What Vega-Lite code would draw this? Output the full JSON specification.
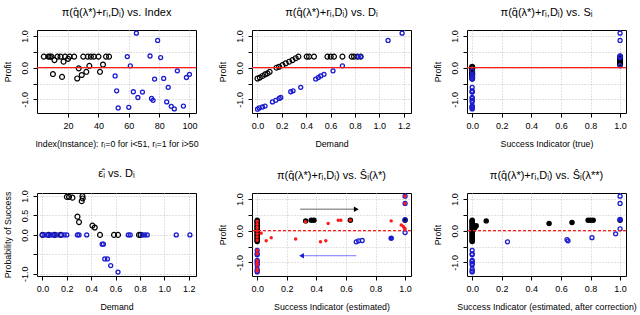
{
  "$schema": "https://vega.github.io/schema/vega-lite/v6.json",
  "background": "white",
  "padding": {"left": 2, "top": 6, "right": 2, "bottom": 2},
  "config": {
    "view": {"stroke": "black", "strokeWidth": 1},
    "font": "Liberation Sans, DejaVu Sans",
    "axis": {"domain": false, "tickColor": "black", "tickSize": 4, "labelFont": "Liberation Sans, DejaVu Sans", "labelFontSize": 9, "labelColor": "black", "titleFont": "Liberation Sans, DejaVu Sans", "titleFontSize": 8.8, "titleFontWeight": "normal", "titleColor": "black", "gridColor": "#c4c4c4", "gridDash": [1, 2], "gridWidth": 1},
    "axisX": {"labelPadding": 4, "titlePadding": 9},
    "axisY": {"labelAngle": -90, "labelAlign": "center", "labelBaseline": "bottom", "labelPadding": 4, "titlePadding": 8},
    "title": {"font": "Liberation Sans, DejaVu Sans", "fontSize": 11, "fontWeight": "normal", "color": "black", "offset": 11}
  },
  "datasets": {
    "p1": [
      {"x": 4, "y": 0.35, "g": "r0"}, {"x": 7, "y": 0.35, "g": "r0"}, {"x": 8, "y": 0.35, "g": "r0"}, {"x": 9, "y": 0.35, "g": "r0"}, {"x": 13, "y": 0.35, "g": "r0"}, {"x": 15, "y": 0.35, "g": "r0"}, {"x": 18, "y": 0.35, "g": "r0"}, {"x": 21, "y": 0.35, "g": "r0"}, {"x": 24, "y": 0.35, "g": "r0"}, {"x": 30, "y": 0.35, "g": "r0"}, {"x": 33, "y": 0.35, "g": "r0"}, {"x": 35, "y": 0.35, "g": "r0"}, {"x": 37, "y": 0.35, "g": "r0"}, {"x": 40, "y": 0.35, "g": "r0"}, {"x": 45, "y": 0.35, "g": "r0"}, {"x": 47, "y": 0.35, "g": "r0"},
      {"x": 11, "y": 0.24, "g": "r0"}, {"x": 17, "y": 0.19, "g": "r0"}, {"x": 20, "y": 0.28, "g": "r0"}, {"x": 10, "y": -0.2, "g": "r0"}, {"x": 16, "y": -0.29, "g": "r0"}, {"x": 27, "y": -0.02, "g": "r0"}, {"x": 26, "y": -0.34, "g": "r0"}, {"x": 29, "y": -0.23, "g": "r0"}, {"x": 32, "y": -0.13, "g": "r0"}, {"x": 34, "y": 0.06, "g": "r0"}, {"x": 41, "y": -0.13, "g": "r0"}, {"x": 43, "y": 0.1, "g": "r0"},
      {"x": 65, "y": 1.09, "g": "r1"}, {"x": 79, "y": 0.86, "g": "r1"}, {"x": 59, "y": 0.35, "g": "r1"}, {"x": 74, "y": 0.37, "g": "r1"}, {"x": 81, "y": 0.32, "g": "r1"}, {"x": 61, "y": 0.06, "g": "r1"}, {"x": 92, "y": -0.1, "g": "r1"}, {"x": 51, "y": -0.26, "g": "r1"}, {"x": 77, "y": -0.36, "g": "r1"}, {"x": 83, "y": -0.34, "g": "r1"}, {"x": 98, "y": -0.31, "g": "r1"}, {"x": 100, "y": -0.21, "g": "r1"}, {"x": 86, "y": -0.62, "g": "r1"}, {"x": 52, "y": -0.73, "g": "r1"}, {"x": 63, "y": -0.76, "g": "r1"}, {"x": 69, "y": -0.77, "g": "r1"}, {"x": 66, "y": -0.94, "g": "r1"}, {"x": 75, "y": -0.97, "g": "r1"}, {"x": 76, "y": -1.03, "g": "r1"}, {"x": 85, "y": -1.08, "g": "r1"}, {"x": 88, "y": -1.22, "g": "r1"}, {"x": 90, "y": -1.3, "g": "r1"}, {"x": 96, "y": -1.21, "g": "r1"}, {"x": 53, "y": -1.27, "g": "r1"}, {"x": 60, "y": -1.25, "g": "r1"}
    ],
    "p2": [
      {"x": 0.0, "y": -0.34, "g": "r0"}, {"x": 0.019, "y": -0.31, "g": "r0"}, {"x": 0.041, "y": -0.26, "g": "r0"}, {"x": 0.062, "y": -0.21, "g": "r0"}, {"x": 0.082, "y": -0.18, "g": "r0"}, {"x": 0.1, "y": -0.13, "g": "r0"}, {"x": 0.156, "y": 0.0, "g": "r0"}, {"x": 0.177, "y": 0.03, "g": "r0"}, {"x": 0.205, "y": 0.08, "g": "r0"}, {"x": 0.232, "y": 0.14, "g": "r0"}, {"x": 0.26, "y": 0.19, "g": "r0"}, {"x": 0.287, "y": 0.24, "g": "r0"}, {"x": 0.314, "y": 0.3, "g": "r0"}, {"x": 0.336, "y": 0.35, "g": "r0"}, {"x": 0.404, "y": 0.35, "g": "r0"}, {"x": 0.423, "y": 0.35, "g": "r0"}, {"x": 0.464, "y": 0.35, "g": "r0"}, {"x": 0.574, "y": 0.35, "g": "r0"}, {"x": 0.601, "y": 0.35, "g": "r0"}, {"x": 0.628, "y": 0.35, "g": "r0"}, {"x": 0.697, "y": 0.35, "g": "r0"}, {"x": 0.773, "y": 0.35, "g": "r0"}, {"x": 0.792, "y": 0.35, "g": "r0"}, {"x": 0.82, "y": 0.35, "g": "r0"}, {"x": 0.847, "y": 0.35, "g": "r0"},
      {"x": 0.0, "y": -1.31, "g": "r1"}, {"x": 0.014, "y": -1.27, "g": "r1"}, {"x": 0.041, "y": -1.24, "g": "r1"}, {"x": 0.062, "y": -1.21, "g": "r1"}, {"x": 0.123, "y": -1.08, "g": "r1"}, {"x": 0.15, "y": -1.03, "g": "r1"}, {"x": 0.178, "y": -0.97, "g": "r1"}, {"x": 0.191, "y": -0.94, "g": "r1"}, {"x": 0.273, "y": -0.76, "g": "r1"}, {"x": 0.292, "y": -0.73, "g": "r1"}, {"x": 0.355, "y": -0.62, "g": "r1"}, {"x": 0.478, "y": -0.36, "g": "r1"}, {"x": 0.5, "y": -0.31, "g": "r1"}, {"x": 0.519, "y": -0.26, "g": "r1"}, {"x": 0.546, "y": -0.21, "g": "r1"}, {"x": 0.62, "y": -0.1, "g": "r1"}, {"x": 0.697, "y": 0.06, "g": "r1"}, {"x": 0.827, "y": 0.35, "g": "r1"}, {"x": 0.846, "y": 0.35, "g": "r1"}, {"x": 1.072, "y": 0.86, "g": "r1"}, {"x": 1.187, "y": 1.09, "g": "r1"}
    ],
    "p3": [
      {"x": 0, "y": 0.03, "g": "r0"}, {"x": 0, "y": 0.0, "g": "r0"}, {"x": 0, "y": -0.02, "g": "r0"}, {"x": 0, "y": -0.06, "g": "r0"}, {"x": 0, "y": -0.13, "g": "r0"}, {"x": 0, "y": -0.18, "g": "r0"}, {"x": 0, "y": -0.2, "g": "r0"}, {"x": 0, "y": -0.23, "g": "r0"}, {"x": 0, "y": -0.29, "g": "r0"}, {"x": 0, "y": -0.34, "g": "r0"},
      {"x": 1, "y": 0.35, "g": "r0"}, {"x": 1, "y": 0.3, "g": "r0"}, {"x": 1, "y": 0.28, "g": "r0"}, {"x": 1, "y": 0.24, "g": "r0"}, {"x": 1, "y": 0.19, "g": "r0"}, {"x": 1, "y": 0.14, "g": "r0"}, {"x": 1, "y": 0.1, "g": "r0"},
      {"x": 0, "y": -0.1, "g": "r1"}, {"x": 0, "y": -0.21, "g": "r1"}, {"x": 0, "y": -0.26, "g": "r1"}, {"x": 0, "y": -0.31, "g": "r1"}, {"x": 0, "y": -0.34, "g": "r1"}, {"x": 0, "y": -0.36, "g": "r1"}, {"x": 0, "y": -0.62, "g": "r1"}, {"x": 0, "y": -0.73, "g": "r1"}, {"x": 0, "y": -0.76, "g": "r1"}, {"x": 0, "y": -0.77, "g": "r1"}, {"x": 0, "y": -0.94, "g": "r1"}, {"x": 0, "y": -0.97, "g": "r1"}, {"x": 0, "y": -1.03, "g": "r1"}, {"x": 0, "y": -1.08, "g": "r1"}, {"x": 0, "y": -1.21, "g": "r1"}, {"x": 0, "y": -1.22, "g": "r1"}, {"x": 0, "y": -1.25, "g": "r1"}, {"x": 0, "y": -1.27, "g": "r1"}, {"x": 0, "y": -1.3, "g": "r1"},
      {"x": 1, "y": 1.09, "g": "r1"}, {"x": 1, "y": 0.86, "g": "r1"}, {"x": 1, "y": 0.37, "g": "r1"}, {"x": 1, "y": 0.35, "g": "r1"}, {"x": 1, "y": 0.32, "g": "r1"}, {"x": 1, "y": 0.06, "g": "r1"}
    ],
    "p4": [
      {"x": 0.0, "y": 0, "g": "r0"}, {"x": 0.05, "y": 0, "g": "r0"}, {"x": 0.1, "y": 0, "g": "r0"}, {"x": 0.15, "y": 0, "g": "r0"},
      {"x": 0.2, "y": 0.98, "g": "r0"}, {"x": 0.218, "y": 0.98, "g": "r0"}, {"x": 0.246, "y": 0.96, "g": "r0"}, {"x": 0.328, "y": 1.0, "g": "r0"}, {"x": 0.33, "y": 0.94, "g": "r0"}, {"x": 0.322, "y": 0.87, "g": "r0"}, {"x": 0.287, "y": 0.47, "g": "r0"}, {"x": 0.3, "y": 0.33, "g": "r0"}, {"x": 0.41, "y": 0.24, "g": "r0"}, {"x": 0.429, "y": 0.19, "g": "r0"}, {"x": 0.472, "y": 0, "g": "r0"}, {"x": 0.587, "y": 0, "g": "r0"}, {"x": 0.62, "y": 0, "g": "r0"}, {"x": 0.792, "y": 0, "g": "r0"}, {"x": 0.806, "y": 0, "g": "r0"},
      {"x": 0.0, "y": 0, "g": "r1"}, {"x": 0.019, "y": 0, "g": "r1"}, {"x": 0.041, "y": 0, "g": "r1"}, {"x": 0.063, "y": 0, "g": "r1"}, {"x": 0.082, "y": 0, "g": "r1"}, {"x": 0.101, "y": 0, "g": "r1"}, {"x": 0.123, "y": 0, "g": "r1"}, {"x": 0.156, "y": 0, "g": "r1"}, {"x": 0.178, "y": 0, "g": "r1"}, {"x": 0.2, "y": 0, "g": "r1"}, {"x": 0.287, "y": 0, "g": "r1"}, {"x": 0.3, "y": 0, "g": "r1"}, {"x": 0.363, "y": 0, "g": "r1"}, {"x": 0.704, "y": 0, "g": "r1"}, {"x": 0.72, "y": 0, "g": "r1"}, {"x": 0.82, "y": 0, "g": "r1"}, {"x": 0.84, "y": 0, "g": "r1"}, {"x": 0.86, "y": 0, "g": "r1"}, {"x": 1.098, "y": 0, "g": "r1"}, {"x": 1.21, "y": 0, "g": "r1"},
      {"x": 0.49, "y": -0.24, "g": "r1"}, {"x": 0.5, "y": -0.24, "g": "r1"}, {"x": 0.511, "y": -0.62, "g": "r1"}, {"x": 0.533, "y": -0.62, "g": "r1"}, {"x": 0.56, "y": -0.79, "g": "r1"}, {"x": 0.62, "y": -0.96, "g": "r1"}
    ],
    "p5": [
      {"x": 0, "y": 0.33, "g": "r0f"}, {"x": 0, "y": 0.3, "g": "r0f"}, {"x": 0, "y": 0.26, "g": "r0f"}, {"x": 0, "y": 0.22, "g": "r0f"}, {"x": 0, "y": 0.18, "g": "r0f"}, {"x": 0, "y": 0.14, "g": "r0f"}, {"x": 0, "y": 0.1, "g": "r0f"}, {"x": 0, "y": 0.06, "g": "r0f"}, {"x": 0, "y": 0.02, "g": "r0f"}, {"x": 0, "y": -0.02, "g": "r0f"}, {"x": 0, "y": -0.06, "g": "r0f"}, {"x": 0, "y": -0.1, "g": "r0f"}, {"x": 0, "y": -0.14, "g": "r0f"}, {"x": 0, "y": -0.18, "g": "r0f"}, {"x": 0, "y": -0.22, "g": "r0f"}, {"x": 0, "y": -0.26, "g": "r0f"}, {"x": 0, "y": -0.3, "g": "r0f"}, {"x": 0, "y": -0.34, "g": "r0f"},
      {"x": 0.328, "y": 0.31, "g": "r0f"}, {"x": 0.366, "y": 0.33, "g": "r0f"}, {"x": 0.384, "y": 0.33, "g": "r0f"}, {"x": 0.63, "y": 0.33, "g": "r0f"}, {"x": 1.0, "y": 0.33, "g": "r0f"},
      {"x": 0, "y": -0.62, "g": "r1"}, {"x": 0, "y": -0.73, "g": "r1"}, {"x": 0, "y": -0.76, "g": "r1"}, {"x": 0, "y": -0.94, "g": "r1"}, {"x": 0, "y": -0.97, "g": "r1"}, {"x": 0, "y": -1.03, "g": "r1"}, {"x": 0, "y": -1.08, "g": "r1"}, {"x": 0, "y": -1.21, "g": "r1"}, {"x": 0, "y": -1.27, "g": "r1"}, {"x": 0, "y": -1.3, "g": "r1"},
      {"x": 0.67, "y": -0.35, "g": "r1"}, {"x": 0.686, "y": -0.32, "g": "r1"}, {"x": 0.71, "y": -0.31, "g": "r1"}, {"x": 1.0, "y": 1.09, "g": "r1"}, {"x": 1.0, "y": 0.86, "g": "r1"}, {"x": 1.0, "y": 0.35, "g": "r1"}, {"x": 1.0, "y": -0.06, "g": "r1"},
      {"x": 0.906, "y": -0.24, "g": "r1f"},
      {"x": 0, "y": 0.3, "g": "est"}, {"x": 0, "y": 0.2, "g": "est"}, {"x": 0, "y": 0.1, "g": "est"}, {"x": 0, "y": 0.0, "g": "est"}, {"x": 0, "y": -0.1, "g": "est"}, {"x": 0, "y": -0.2, "g": "est"}, {"x": 0, "y": -0.3, "g": "est"}, {"x": 0, "y": -0.62, "g": "est"}, {"x": 0, "y": -0.73, "g": "est"}, {"x": 0, "y": -0.94, "g": "est"}, {"x": 0, "y": -1.03, "g": "est"}, {"x": 0, "y": -1.08, "g": "est"}, {"x": 0, "y": -1.21, "g": "est"}, {"x": 0, "y": -1.27, "g": "est"},
      {"x": 0.027, "y": -0.08, "g": "est"}, {"x": 0.061, "y": -0.32, "g": "est"}, {"x": 0.095, "y": -0.22, "g": "est"}, {"x": 0.26, "y": -0.26, "g": "est"}, {"x": 0.326, "y": 0.28, "g": "est"}, {"x": 0.428, "y": -0.35, "g": "est"}, {"x": 0.464, "y": -0.32, "g": "est"}, {"x": 0.48, "y": 0.23, "g": "est"}, {"x": 0.548, "y": 0.33, "g": "est"}, {"x": 0.566, "y": 0.33, "g": "est"}, {"x": 0.63, "y": 0.33, "g": "est"}, {"x": 0.906, "y": 0.31, "g": "est"}, {"x": 0.974, "y": 0.18, "g": "est"}, {"x": 0.988, "y": 0.13, "g": "est"}, {"x": 0.995, "y": 0.08, "g": "est"}, {"x": 1.0, "y": 0.06, "g": "est"}, {"x": 1.0, "y": 1.09, "g": "est"}, {"x": 1.0, "y": 0.86, "g": "est"}
    ],
    "p5arrows": [
      {"tail": 0.29, "head": 0.67, "y": 0.68, "dir": "right"},
      {"tail": 0.67, "head": 0.3, "y": -0.79, "dir": "left"}
    ],
    "p6": [
      {"x": 0, "y": 0.33, "g": "r0f"}, {"x": 0, "y": 0.3, "g": "r0f"}, {"x": 0, "y": 0.26, "g": "r0f"}, {"x": 0, "y": 0.22, "g": "r0f"}, {"x": 0, "y": 0.18, "g": "r0f"}, {"x": 0, "y": 0.14, "g": "r0f"}, {"x": 0, "y": 0.1, "g": "r0f"}, {"x": 0, "y": 0.06, "g": "r0f"}, {"x": 0, "y": 0.02, "g": "r0f"}, {"x": 0, "y": -0.02, "g": "r0f"}, {"x": 0, "y": -0.06, "g": "r0f"}, {"x": 0, "y": -0.1, "g": "r0f"}, {"x": 0, "y": -0.14, "g": "r0f"}, {"x": 0, "y": -0.18, "g": "r0f"}, {"x": 0, "y": -0.22, "g": "r0f"}, {"x": 0, "y": -0.26, "g": "r0f"}, {"x": 0, "y": -0.3, "g": "r0f"}, {"x": 0, "y": -0.34, "g": "r0f"},
      {"x": 0.01, "y": 0.04, "g": "r0f"}, {"x": 0.016, "y": 0.09, "g": "r0f"}, {"x": 0.02, "y": 0.12, "g": "r0f"}, {"x": 0.027, "y": 0.16, "g": "r0f"}, {"x": 0.095, "y": 0.31, "g": "r0f"}, {"x": 0.52, "y": 0.23, "g": "r0f"}, {"x": 0.675, "y": 0.26, "g": "r0f"}, {"x": 0.784, "y": 0.33, "g": "r0f"}, {"x": 0.8, "y": 0.33, "g": "r0f"}, {"x": 0.818, "y": 0.33, "g": "r0f"}, {"x": 1.0, "y": 0.33, "g": "r0f"},
      {"x": 0, "y": -0.62, "g": "r1"}, {"x": 0, "y": -0.73, "g": "r1"}, {"x": 0, "y": -0.76, "g": "r1"}, {"x": 0, "y": -0.94, "g": "r1"}, {"x": 0, "y": -0.97, "g": "r1"}, {"x": 0, "y": -1.03, "g": "r1"}, {"x": 0, "y": -1.08, "g": "r1"}, {"x": 0, "y": -1.21, "g": "r1"}, {"x": 0, "y": -1.27, "g": "r1"}, {"x": 0, "y": -1.3, "g": "r1"},
      {"x": 0.239, "y": -0.35, "g": "r1"}, {"x": 0.641, "y": -0.28, "g": "r1"}, {"x": 0.648, "y": -0.32, "g": "r1"}, {"x": 0.81, "y": -0.22, "g": "r1"}, {"x": 0.97, "y": -0.1, "g": "r1"}, {"x": 1.0, "y": 1.09, "g": "r1"}, {"x": 1.0, "y": 0.86, "g": "r1"}, {"x": 1.0, "y": 0.06, "g": "r1"},
      {"x": 1.0, "y": 0.35, "g": "r1f"}
    ]
  },
  "columns": 3,
  "spacing": {"row": 80, "column": 56},
  "bounds": "flush",
  "concat": [
    {
      "title": "π(q̂(λ*)+rᵢ,Dᵢ) vs. Index",
      "width": 159, "height": 83,
      "data": {"name": "p1"},
      "layer": [
        {"transform": [{"filter": "datum.g == 'r0'"}], "mark": {"type": "point", "color": "black", "size": 24, "strokeWidth": 1.2, "opacity": 1},
         "encoding": {"x": {"field": "x", "type": "quantitative", "scale": {"domain": [-0.5, 104.3], "nice": false, "zero": false}, "axis": {"values": [20, 40, 60, 80, 100], "title": "Index(Instance): rᵢ=0 for i<51, rᵢ=1 for i>50"}},
                      "y": {"field": "y", "type": "quantitative", "scale": {"domain": [-1.43, 1.19], "nice": false, "zero": false}, "axis": {"values": [-1, -0.5, 0, 0.5, 1], "labelExpr": "datum.value == 1 ? '1.0' : datum.value == 0 ? '0.0' : datum.value == -1 ? '-1.0' : ''", "title": "Profit"}}}},
        {"transform": [{"filter": "datum.g == 'r1'"}], "mark": {"type": "point", "color": "#1c1ccf", "size": 16, "strokeWidth": 1.3, "opacity": 1},
         "encoding": {"x": {"field": "x", "type": "quantitative", "scale": {"domain": [-0.5, 104.3], "nice": false, "zero": false}, "axis": {"values": [20, 40, 60, 80, 100], "title": "Index(Instance): rᵢ=0 for i<51, rᵢ=1 for i>50"}},
                      "y": {"field": "y", "type": "quantitative", "scale": {"domain": [-1.43, 1.19], "nice": false, "zero": false}, "axis": {"values": [-1, -0.5, 0, 0.5, 1], "labelExpr": "datum.value == 1 ? '1.0' : datum.value == 0 ? '0.0' : datum.value == -1 ? '-1.0' : ''", "title": "Profit"}}}},
        {"data": {"values": [{}]}, "mark": {"type": "rule", "color": "#ff1a1a", "strokeWidth": 1.2},
         "encoding": {"y": {"datum": 0, "type": "quantitative", "scale": {"domain": [-1.43, 1.19], "nice": false, "zero": false}, "axis": {"values": [-1, -0.5, 0, 0.5, 1], "labelExpr": "datum.value == 1 ? '1.0' : datum.value == 0 ? '0.0' : datum.value == -1 ? '-1.0' : ''", "title": "Profit"}}}}
      ]
    },
    {
      "title": "π(q̂(λ*)+rᵢ,Dᵢ) vs. Dᵢ",
      "width": 159, "height": 83,
      "data": {"name": "p2"},
      "layer": [
        {"transform": [{"filter": "datum.g == 'r0'"}], "mark": {"type": "point", "color": "black", "size": 24, "strokeWidth": 1.2, "opacity": 1},
         "encoding": {"x": {"field": "x", "type": "quantitative", "scale": {"domain": [-0.045, 1.26], "nice": false, "zero": false}, "axis": {"values": [0, 0.2, 0.4, 0.6, 0.8, 1, 1.2], "format": ".1f", "title": "Demand"}},
                      "y": {"field": "y", "type": "quantitative", "scale": {"domain": [-1.43, 1.19], "nice": false, "zero": false}, "axis": {"values": [-1, -0.5, 0, 0.5, 1], "labelExpr": "datum.value == 1 ? '1.0' : datum.value == 0 ? '0.0' : datum.value == -1 ? '-1.0' : ''", "title": "Profit"}}}},
        {"transform": [{"filter": "datum.g == 'r1'"}], "mark": {"type": "point", "color": "#1c1ccf", "size": 16, "strokeWidth": 1.3, "opacity": 1},
         "encoding": {"x": {"field": "x", "type": "quantitative", "scale": {"domain": [-0.045, 1.26], "nice": false, "zero": false}, "axis": {"values": [0, 0.2, 0.4, 0.6, 0.8, 1, 1.2], "format": ".1f", "title": "Demand"}},
                      "y": {"field": "y", "type": "quantitative", "scale": {"domain": [-1.43, 1.19], "nice": false, "zero": false}, "axis": {"values": [-1, -0.5, 0, 0.5, 1], "labelExpr": "datum.value == 1 ? '1.0' : datum.value == 0 ? '0.0' : datum.value == -1 ? '-1.0' : ''", "title": "Profit"}}}},
        {"data": {"values": [{}]}, "mark": {"type": "rule", "color": "#ff1a1a", "strokeWidth": 1.2},
         "encoding": {"y": {"datum": 0, "type": "quantitative", "scale": {"domain": [-1.43, 1.19], "nice": false, "zero": false}, "axis": {"values": [-1, -0.5, 0, 0.5, 1], "labelExpr": "datum.value == 1 ? '1.0' : datum.value == 0 ? '0.0' : datum.value == -1 ? '-1.0' : ''", "title": "Profit"}}}}
      ]
    },
    {
      "title": "π(q̂(λ*)+rᵢ,Dᵢ) vs. Sᵢ",
      "width": 159, "height": 83,
      "data": {"name": "p3"},
      "layer": [
        {"transform": [{"filter": "datum.g == 'r0'"}], "mark": {"type": "point", "color": "black", "size": 24, "strokeWidth": 1.2, "opacity": 1},
         "encoding": {"x": {"field": "x", "type": "quantitative", "scale": {"domain": [-0.035, 1.04], "nice": false, "zero": false}, "axis": {"values": [0, 0.2, 0.4, 0.6, 0.8, 1], "format": ".1f", "title": "Success Indicator (true)"}},
                      "y": {"field": "y", "type": "quantitative", "scale": {"domain": [-1.43, 1.19], "nice": false, "zero": false}, "axis": {"values": [-1, -0.5, 0, 0.5, 1], "labelExpr": "datum.value == 1 ? '1.0' : datum.value == 0 ? '0.0' : datum.value == -1 ? '-1.0' : ''", "title": "Profit"}}}},
        {"transform": [{"filter": "datum.g == 'r1'"}], "mark": {"type": "point", "color": "#1c1ccf", "size": 16, "strokeWidth": 1.3, "opacity": 1},
         "encoding": {"x": {"field": "x", "type": "quantitative", "scale": {"domain": [-0.035, 1.04], "nice": false, "zero": false}, "axis": {"values": [0, 0.2, 0.4, 0.6, 0.8, 1], "format": ".1f", "title": "Success Indicator (true)"}},
                      "y": {"field": "y", "type": "quantitative", "scale": {"domain": [-1.43, 1.19], "nice": false, "zero": false}, "axis": {"values": [-1, -0.5, 0, 0.5, 1], "labelExpr": "datum.value == 1 ? '1.0' : datum.value == 0 ? '0.0' : datum.value == -1 ? '-1.0' : ''", "title": "Profit"}}}},
        {"data": {"values": [{}]}, "mark": {"type": "rule", "color": "#ff1a1a", "strokeWidth": 1.2},
         "encoding": {"y": {"datum": 0, "type": "quantitative", "scale": {"domain": [-1.43, 1.19], "nice": false, "zero": false}, "axis": {"values": [-1, -0.5, 0, 0.5, 1], "labelExpr": "datum.value == 1 ? '1.0' : datum.value == 0 ? '0.0' : datum.value == -1 ? '-1.0' : ''", "title": "Profit"}}}}
      ]
    },
    {
      "title": "ε̂ᵢ vs. Dᵢ",
      "width": 159, "height": 83,
      "data": {"name": "p4"},
      "layer": [
        {"transform": [{"filter": "datum.g == 'r0'"}], "mark": {"type": "point", "color": "black", "size": 24, "strokeWidth": 1.2, "opacity": 1},
         "encoding": {"x": {"field": "x", "type": "quantitative", "scale": {"domain": [-0.045, 1.26], "nice": false, "zero": false}, "axis": {"values": [0, 0.2, 0.4, 0.6, 0.8, 1, 1.2], "format": ".1f", "title": "Demand"}},
                      "y": {"field": "y", "type": "quantitative", "scale": {"domain": [-1.06, 1.08], "nice": false, "zero": false}, "axis": {"values": [-1, -0.5, 0, 0.5, 1], "labelExpr": "datum.value == 1 ? '1.0' : datum.value == 0.5 ? '0.5' : datum.value == 0 ? '0.0' : datum.value == -1 ? '-1.0' : ''", "title": "Probability of Success"}}}},
        {"transform": [{"filter": "datum.g == 'r1'"}], "mark": {"type": "point", "color": "#1c1ccf", "size": 16, "strokeWidth": 1.3, "opacity": 1},
         "encoding": {"x": {"field": "x", "type": "quantitative", "scale": {"domain": [-0.045, 1.26], "nice": false, "zero": false}, "axis": {"values": [0, 0.2, 0.4, 0.6, 0.8, 1, 1.2], "format": ".1f", "title": "Demand"}},
                      "y": {"field": "y", "type": "quantitative", "scale": {"domain": [-1.06, 1.08], "nice": false, "zero": false}, "axis": {"values": [-1, -0.5, 0, 0.5, 1], "labelExpr": "datum.value == 1 ? '1.0' : datum.value == 0.5 ? '0.5' : datum.value == 0 ? '0.0' : datum.value == -1 ? '-1.0' : ''", "title": "Probability of Success"}}}}
      ]
    },
    {
      "title": "π(q̂(λ*)+rᵢ,Dᵢ) vs. Ŝᵢ(λ*)",
      "width": 159, "height": 83,
      "data": {"name": "p5"},
      "layer": [
        {"transform": [{"filter": "datum.g == 'r0f'"}], "mark": {"type": "point", "color": "black", "filled": true, "size": 30, "opacity": 1},
         "encoding": {"x": {"field": "x", "type": "quantitative", "scale": {"domain": [-0.035, 1.04], "nice": false, "zero": false}, "axis": {"values": [0, 0.2, 0.4, 0.6, 0.8, 1], "format": ".1f", "title": "Success Indicator (estimated)"}},
                      "y": {"field": "y", "type": "quantitative", "scale": {"domain": [-1.43, 1.19], "nice": false, "zero": false}, "axis": {"values": [-1, -0.5, 0, 0.5, 1], "labelExpr": "datum.value == 1 ? '1.0' : datum.value == 0 ? '0.0' : datum.value == -1 ? '-1.0' : ''", "title": "Profit"}}}},
        {"transform": [{"filter": "datum.g == 'r1'"}], "mark": {"type": "point", "color": "#1c1ccf", "size": 16, "strokeWidth": 1.3, "opacity": 1},
         "encoding": {"x": {"field": "x", "type": "quantitative", "scale": {"domain": [-0.035, 1.04], "nice": false, "zero": false}, "axis": {"values": [0, 0.2, 0.4, 0.6, 0.8, 1], "format": ".1f", "title": "Success Indicator (estimated)"}},
                      "y": {"field": "y", "type": "quantitative", "scale": {"domain": [-1.43, 1.19], "nice": false, "zero": false}, "axis": {"values": [-1, -0.5, 0, 0.5, 1], "labelExpr": "datum.value == 1 ? '1.0' : datum.value == 0 ? '0.0' : datum.value == -1 ? '-1.0' : ''", "title": "Profit"}}}},
        {"transform": [{"filter": "datum.g == 'r1f'"}], "mark": {"type": "point", "color": "#1c1ccf", "filled": true, "size": 30, "opacity": 1},
         "encoding": {"x": {"field": "x", "type": "quantitative", "scale": {"domain": [-0.035, 1.04], "nice": false, "zero": false}, "axis": {"values": [0, 0.2, 0.4, 0.6, 0.8, 1], "format": ".1f", "title": "Success Indicator (estimated)"}},
                      "y": {"field": "y", "type": "quantitative", "scale": {"domain": [-1.43, 1.19], "nice": false, "zero": false}, "axis": {"values": [-1, -0.5, 0, 0.5, 1], "labelExpr": "datum.value == 1 ? '1.0' : datum.value == 0 ? '0.0' : datum.value == -1 ? '-1.0' : ''", "title": "Profit"}}}},
        {"transform": [{"filter": "datum.g == 'est'"}], "mark": {"type": "point", "color": "#ff1a1a", "filled": true, "size": 12, "opacity": 1},
         "encoding": {"x": {"field": "x", "type": "quantitative", "scale": {"domain": [-0.035, 1.04], "nice": false, "zero": false}, "axis": {"values": [0, 0.2, 0.4, 0.6, 0.8, 1], "format": ".1f", "title": "Success Indicator (estimated)"}},
                      "y": {"field": "y", "type": "quantitative", "scale": {"domain": [-1.43, 1.19], "nice": false, "zero": false}, "axis": {"values": [-1, -0.5, 0, 0.5, 1], "labelExpr": "datum.value == 1 ? '1.0' : datum.value == 0 ? '0.0' : datum.value == -1 ? '-1.0' : ''", "title": "Profit"}}}},
        {"data": {"values": [{}]}, "mark": {"type": "rule", "color": "#ff1a1a", "strokeWidth": 1.2, "strokeDash": [3, 2]},
         "encoding": {"y": {"datum": 0, "type": "quantitative", "scale": {"domain": [-1.43, 1.19], "nice": false, "zero": false}, "axis": {"values": [-1, -0.5, 0, 0.5, 1], "labelExpr": "datum.value == 1 ? '1.0' : datum.value == 0 ? '0.0' : datum.value == -1 ? '-1.0' : ''", "title": "Profit"}}}},
        {"data": {"name": "p5arrows"}, "transform": [{"filter": "datum.dir == 'right'"}], "mark": {"type": "rule", "color": "#666666", "strokeWidth": 1},
         "encoding": {"x": {"field": "tail", "type": "quantitative", "scale": {"domain": [-0.035, 1.04], "nice": false, "zero": false}, "axis": {"values": [0, 0.2, 0.4, 0.6, 0.8, 1], "format": ".1f", "title": "Success Indicator (estimated)"}}, "x2": {"field": "head"},
                      "y": {"field": "y", "type": "quantitative", "scale": {"domain": [-1.43, 1.19], "nice": false, "zero": false}, "axis": {"values": [-1, -0.5, 0, 0.5, 1], "labelExpr": "datum.value == 1 ? '1.0' : datum.value == 0 ? '0.0' : datum.value == -1 ? '-1.0' : ''", "title": "Profit"}}}},
        {"data": {"name": "p5arrows"}, "transform": [{"filter": "datum.dir == 'right'"}], "mark": {"type": "point", "shape": "triangle-right", "color": "black", "filled": true, "size": 30, "opacity": 1},
         "encoding": {"x": {"field": "head", "type": "quantitative", "scale": {"domain": [-0.035, 1.04], "nice": false, "zero": false}, "axis": {"values": [0, 0.2, 0.4, 0.6, 0.8, 1], "format": ".1f", "title": "Success Indicator (estimated)"}},
                      "y": {"field": "y", "type": "quantitative", "scale": {"domain": [-1.43, 1.19], "nice": false, "zero": false}, "axis": {"values": [-1, -0.5, 0, 0.5, 1], "labelExpr": "datum.value == 1 ? '1.0' : datum.value == 0 ? '0.0' : datum.value == -1 ? '-1.0' : ''", "title": "Profit"}}}},
        {"data": {"name": "p5arrows"}, "transform": [{"filter": "datum.dir == 'left'"}], "mark": {"type": "rule", "color": "#7878ff", "strokeWidth": 1},
         "encoding": {"x": {"field": "tail", "type": "quantitative", "scale": {"domain": [-0.035, 1.04], "nice": false, "zero": false}, "axis": {"values": [0, 0.2, 0.4, 0.6, 0.8, 1], "format": ".1f", "title": "Success Indicator (estimated)"}}, "x2": {"field": "head"},
                      "y": {"field": "y", "type": "quantitative", "scale": {"domain": [-1.43, 1.19], "nice": false, "zero": false}, "axis": {"values": [-1, -0.5, 0, 0.5, 1], "labelExpr": "datum.value == 1 ? '1.0' : datum.value == 0 ? '0.0' : datum.value == -1 ? '-1.0' : ''", "title": "Profit"}}}},
        {"data": {"name": "p5arrows"}, "transform": [{"filter": "datum.dir == 'left'"}], "mark": {"type": "point", "shape": "triangle-left", "color": "#1c1ccf", "filled": true, "size": 30, "opacity": 1},
         "encoding": {"x": {"field": "head", "type": "quantitative", "scale": {"domain": [-0.035, 1.04], "nice": false, "zero": false}, "axis": {"values": [0, 0.2, 0.4, 0.6, 0.8, 1], "format": ".1f", "title": "Success Indicator (estimated)"}},
                      "y": {"field": "y", "type": "quantitative", "scale": {"domain": [-1.43, 1.19], "nice": false, "zero": false}, "axis": {"values": [-1, -0.5, 0, 0.5, 1], "labelExpr": "datum.value == 1 ? '1.0' : datum.value == 0 ? '0.0' : datum.value == -1 ? '-1.0' : ''", "title": "Profit"}}}}
      ]
    },
    {
      "title": "π(q̂(λ*)+rᵢ,Dᵢ) vs. Ŝᵢ(λ**)",
      "width": 159, "height": 83,
      "data": {"name": "p6"},
      "layer": [
        {"transform": [{"filter": "datum.g == 'r0f'"}], "mark": {"type": "point", "color": "black", "filled": true, "size": 30, "opacity": 1},
         "encoding": {"x": {"field": "x", "type": "quantitative", "scale": {"domain": [-0.035, 1.04], "nice": false, "zero": false}, "axis": {"values": [0, 0.2, 0.4, 0.6, 0.8, 1], "format": ".1f", "title": "Success Indicator (estimated, after correction)"}},
                      "y": {"field": "y", "type": "quantitative", "scale": {"domain": [-1.43, 1.19], "nice": false, "zero": false}, "axis": {"values": [-1, -0.5, 0, 0.5, 1], "labelExpr": "datum.value == 1 ? '1.0' : datum.value == 0 ? '0.0' : datum.value == -1 ? '-1.0' : ''", "title": "Profit"}}}},
        {"transform": [{"filter": "datum.g == 'r1'"}], "mark": {"type": "point", "color": "#1c1ccf", "size": 16, "strokeWidth": 1.3, "opacity": 1},
         "encoding": {"x": {"field": "x", "type": "quantitative", "scale": {"domain": [-0.035, 1.04], "nice": false, "zero": false}, "axis": {"values": [0, 0.2, 0.4, 0.6, 0.8, 1], "format": ".1f", "title": "Success Indicator (estimated, after correction)"}},
                      "y": {"field": "y", "type": "quantitative", "scale": {"domain": [-1.43, 1.19], "nice": false, "zero": false}, "axis": {"values": [-1, -0.5, 0, 0.5, 1], "labelExpr": "datum.value == 1 ? '1.0' : datum.value == 0 ? '0.0' : datum.value == -1 ? '-1.0' : ''", "title": "Profit"}}}},
        {"transform": [{"filter": "datum.g == 'r1f'"}], "mark": {"type": "point", "color": "#1c1ccf", "filled": true, "size": 30, "opacity": 1},
         "encoding": {"x": {"field": "x", "type": "quantitative", "scale": {"domain": [-0.035, 1.04], "nice": false, "zero": false}, "axis": {"values": [0, 0.2, 0.4, 0.6, 0.8, 1], "format": ".1f", "title": "Success Indicator (estimated, after correction)"}},
                      "y": {"field": "y", "type": "quantitative", "scale": {"domain": [-1.43, 1.19], "nice": false, "zero": false}, "axis": {"values": [-1, -0.5, 0, 0.5, 1], "labelExpr": "datum.value == 1 ? '1.0' : datum.value == 0 ? '0.0' : datum.value == -1 ? '-1.0' : ''", "title": "Profit"}}}},
        {"data": {"values": [{}]}, "mark": {"type": "rule", "color": "#ff1a1a", "strokeWidth": 1.2, "strokeDash": [3, 2]},
         "encoding": {"y": {"datum": 0, "type": "quantitative", "scale": {"domain": [-1.43, 1.19], "nice": false, "zero": false}, "axis": {"values": [-1, -0.5, 0, 0.5, 1], "labelExpr": "datum.value == 1 ? '1.0' : datum.value == 0 ? '0.0' : datum.value == -1 ? '-1.0' : ''", "title": "Profit"}}}}
      ]
    }
  ]
}
